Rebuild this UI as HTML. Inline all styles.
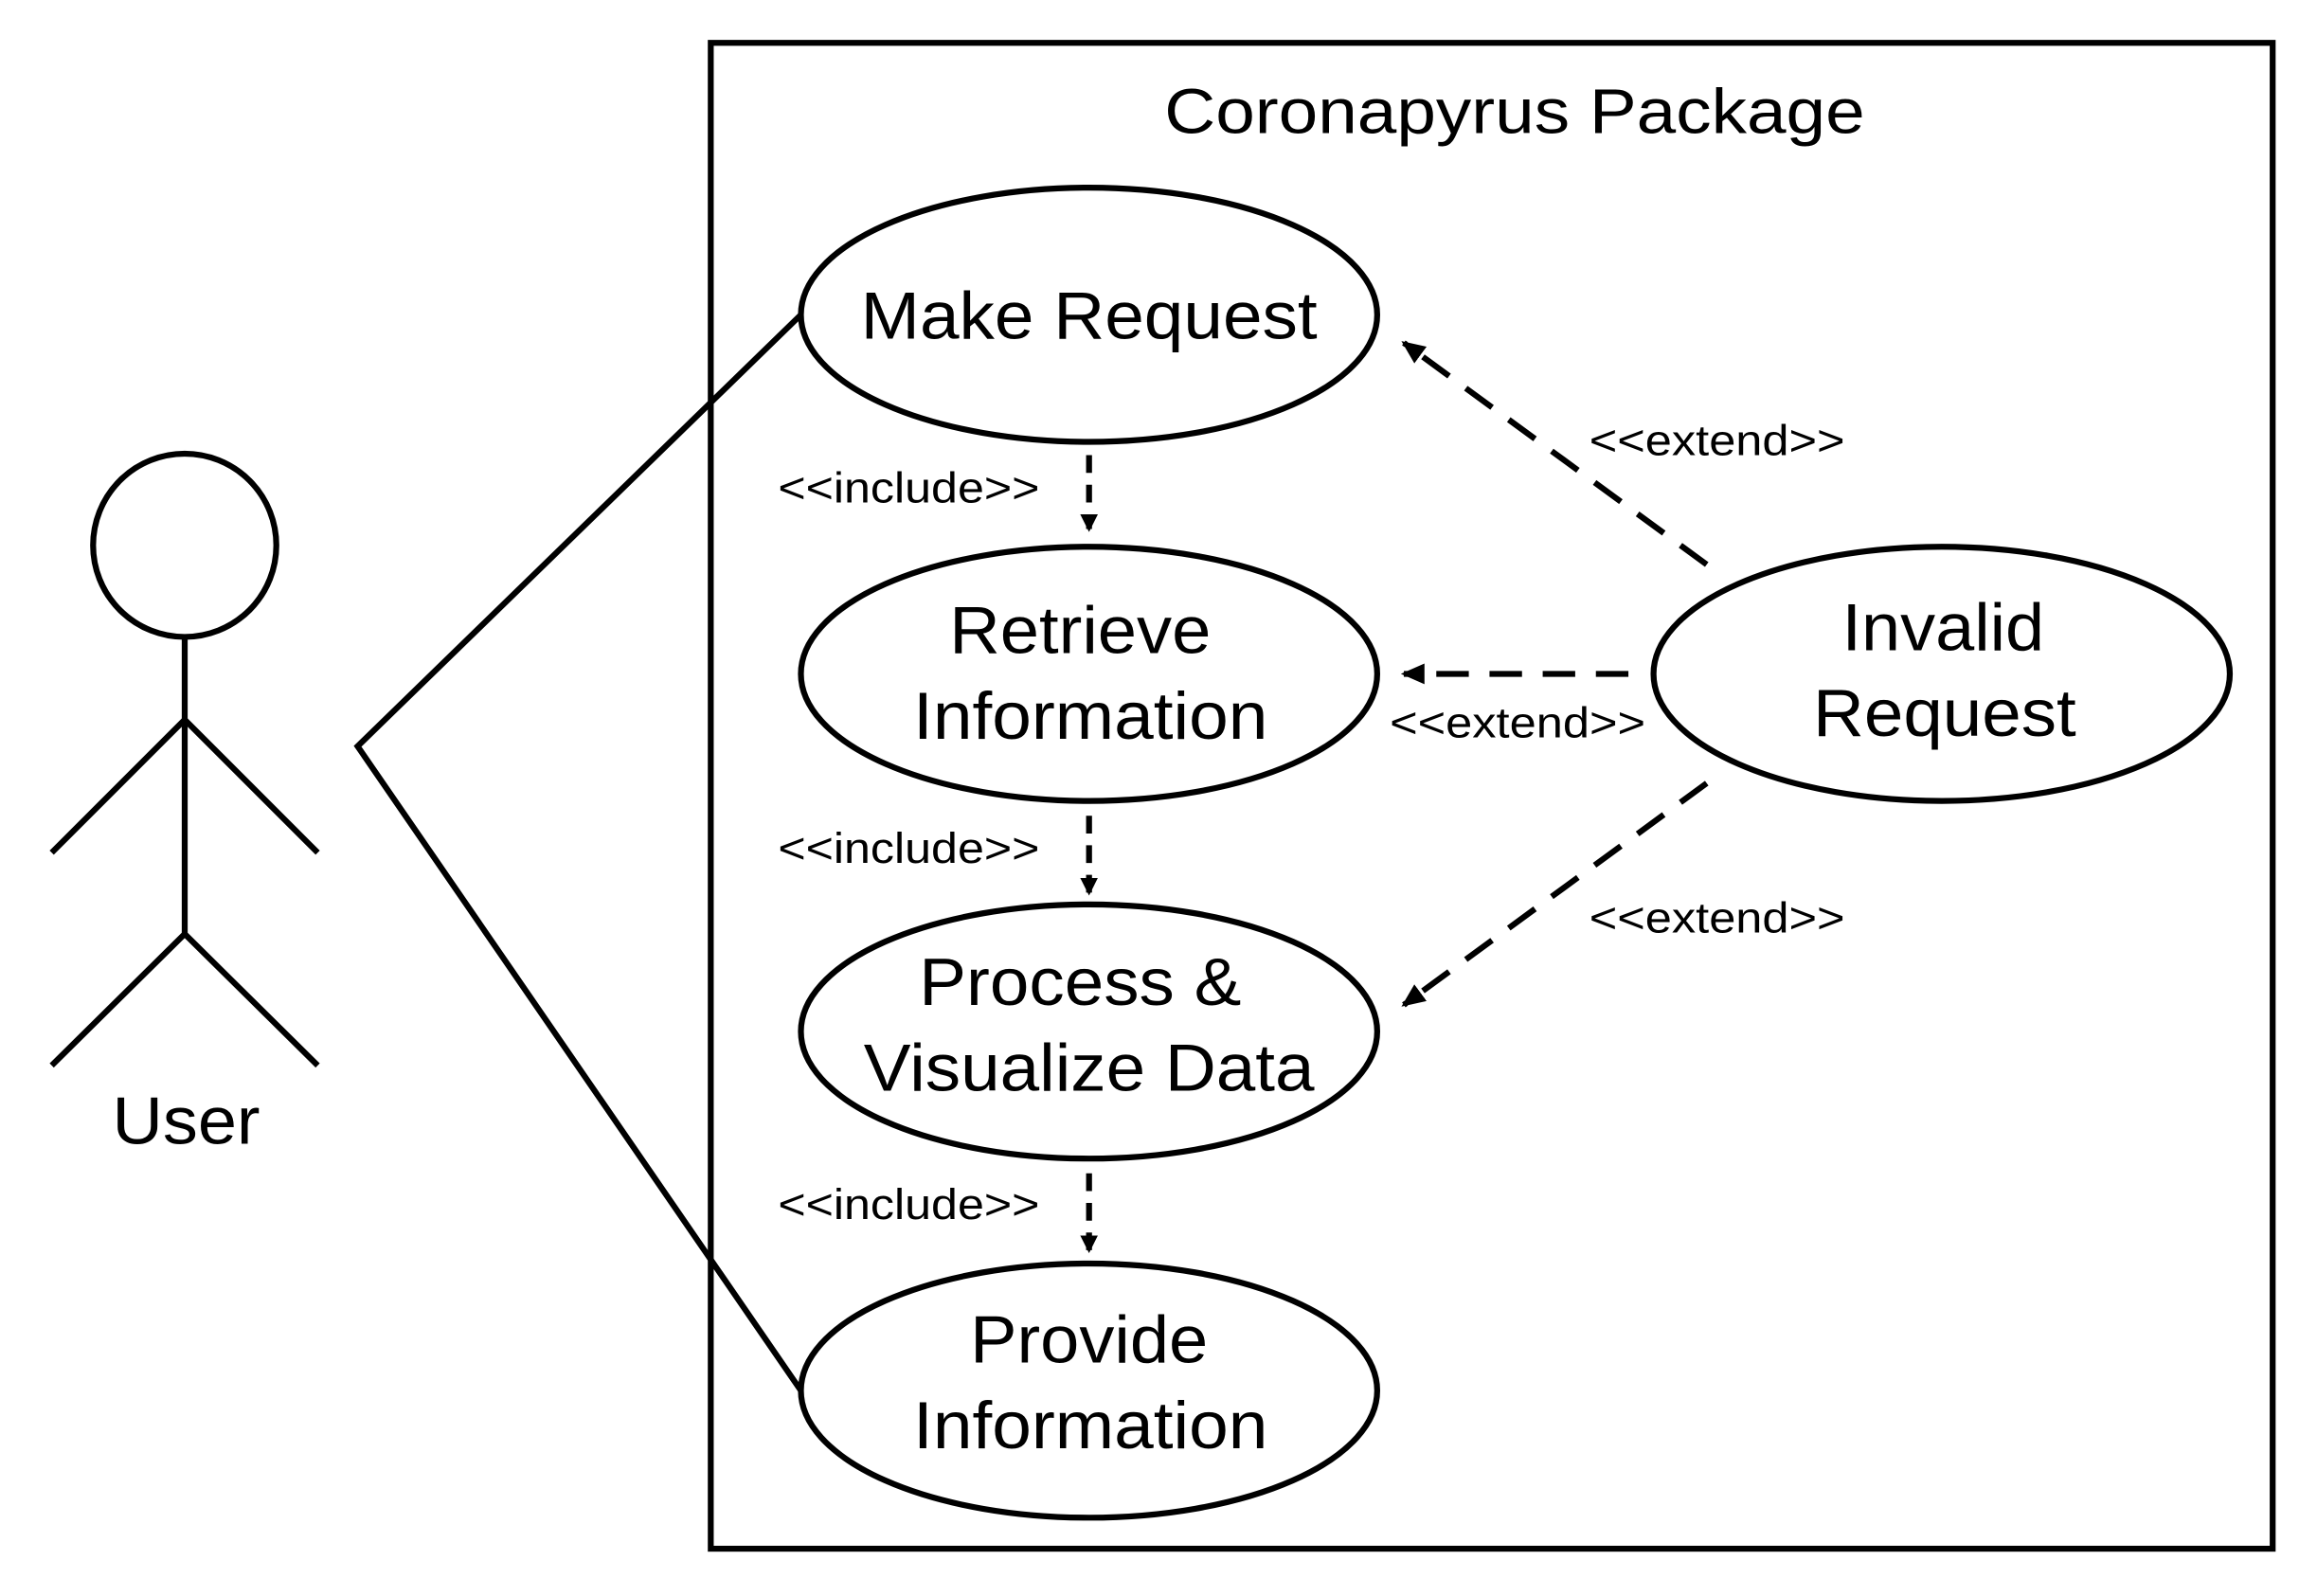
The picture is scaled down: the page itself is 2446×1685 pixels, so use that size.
<!DOCTYPE html>
<html><head><meta charset="utf-8"><style>
html,body{margin:0;padding:0;background:#fff;}
svg{display:block;}
text{font-family:"Liberation Sans",Arial,sans-serif;fill:#000;}
</style></head><body>
<svg width="2446" height="1685" viewBox="0 0 1568 1080" preserveAspectRatio="none" xmlns="http://www.w3.org/2000/svg">
<defs>
<marker id="ah" markerWidth="12" markerHeight="12" refX="10" refY="6" orient="auto" markerUnits="userSpaceOnUse">
<path d="M0,0 L12,6 L0,12 Z" fill="#000"/>
</marker>
<marker id="ah2" markerWidth="16" markerHeight="14" refX="14" refY="7" orient="auto" markerUnits="userSpaceOnUse">
<path d="M0,0 L16,7 L0,14 Z" fill="#000"/>
</marker>
</defs>
<rect x="481" y="29" width="1057" height="1019" fill="none" stroke="#000" stroke-width="4"/>
<text x="1025" y="90" font-size="43" text-anchor="middle" textLength="474" lengthAdjust="spacingAndGlyphs">Coronapyrus Package</text>

<g fill="none" stroke="#000" stroke-width="4">
<ellipse cx="737" cy="213" rx="195" ry="86"/>
<ellipse cx="737" cy="456" rx="195" ry="86"/>
<ellipse cx="737" cy="698" rx="195" ry="86"/>
<ellipse cx="737" cy="941" rx="195" ry="86"/>
<ellipse cx="1314" cy="456" rx="195" ry="86"/>
<circle cx="125" cy="369" r="62"/>
<line x1="125" y1="431" x2="125" y2="632"/>
<polyline points="35,577 125,487 215,577"/>
<polyline points="35,721 125,632 215,721"/>
<polyline points="542,213 242,505 542,941"/>
</g>
<g font-size="45" text-anchor="middle" lengthAdjust="spacingAndGlyphs">
<text x="737" y="229" textLength="309" lengthAdjust="spacingAndGlyphs">Make Request</text>
<text x="731" y="442" textLength="177" lengthAdjust="spacingAndGlyphs">Retrieve</text>
<text x="738" y="500" textLength="240" lengthAdjust="spacingAndGlyphs">Information</text>
<text x="731" y="680" textLength="218" lengthAdjust="spacingAndGlyphs">Process &amp;</text>
<text x="737" y="738" textLength="305" lengthAdjust="spacingAndGlyphs">Visualize Data</text>
<text x="737" y="922" textLength="161" lengthAdjust="spacingAndGlyphs">Provide</text>
<text x="738" y="980" textLength="240" lengthAdjust="spacingAndGlyphs">Information</text>
<text x="1315" y="440" textLength="137" lengthAdjust="spacingAndGlyphs">Invalid</text>
<text x="1316" y="498" textLength="178" lengthAdjust="spacingAndGlyphs">Request</text>
<text x="126" y="774" textLength="100" lengthAdjust="spacingAndGlyphs">User</text>
</g>
<g stroke="#000" stroke-width="4" stroke-dasharray="12,8" fill="none">
<line x1="737" y1="308" x2="737" y2="358" marker-end="url(#ah)"/>
<line x1="737" y1="552" x2="737" y2="604" marker-end="url(#ah)"/>
<line x1="737" y1="794" x2="737" y2="846" marker-end="url(#ah)"/>
<line x1="1155" y1="382" x2="950" y2="232" stroke-dasharray="22,14" marker-end="url(#ah2)"/>
<line x1="1102" y1="456" x2="950" y2="456" stroke-dasharray="22,14" marker-end="url(#ah2)"/>
<line x1="1155" y1="530" x2="950" y2="680" stroke-dasharray="22,14" marker-end="url(#ah2)"/>
</g>
<g font-size="29" text-anchor="middle">
<text x="615" y="340" textLength="177" lengthAdjust="spacingAndGlyphs">&lt;&lt;include&gt;&gt;</text>
<text x="615" y="584" textLength="177" lengthAdjust="spacingAndGlyphs">&lt;&lt;include&gt;&gt;</text>
<text x="615" y="825" textLength="177" lengthAdjust="spacingAndGlyphs">&lt;&lt;include&gt;&gt;</text>
<text x="1162" y="308" textLength="173" lengthAdjust="spacingAndGlyphs">&lt;&lt;extend&gt;&gt;</text>
<text x="1027" y="499" textLength="173" lengthAdjust="spacingAndGlyphs">&lt;&lt;extend&gt;&gt;</text>
<text x="1162" y="631" textLength="173" lengthAdjust="spacingAndGlyphs">&lt;&lt;extend&gt;&gt;</text>
</g>
</svg>
</body></html>
